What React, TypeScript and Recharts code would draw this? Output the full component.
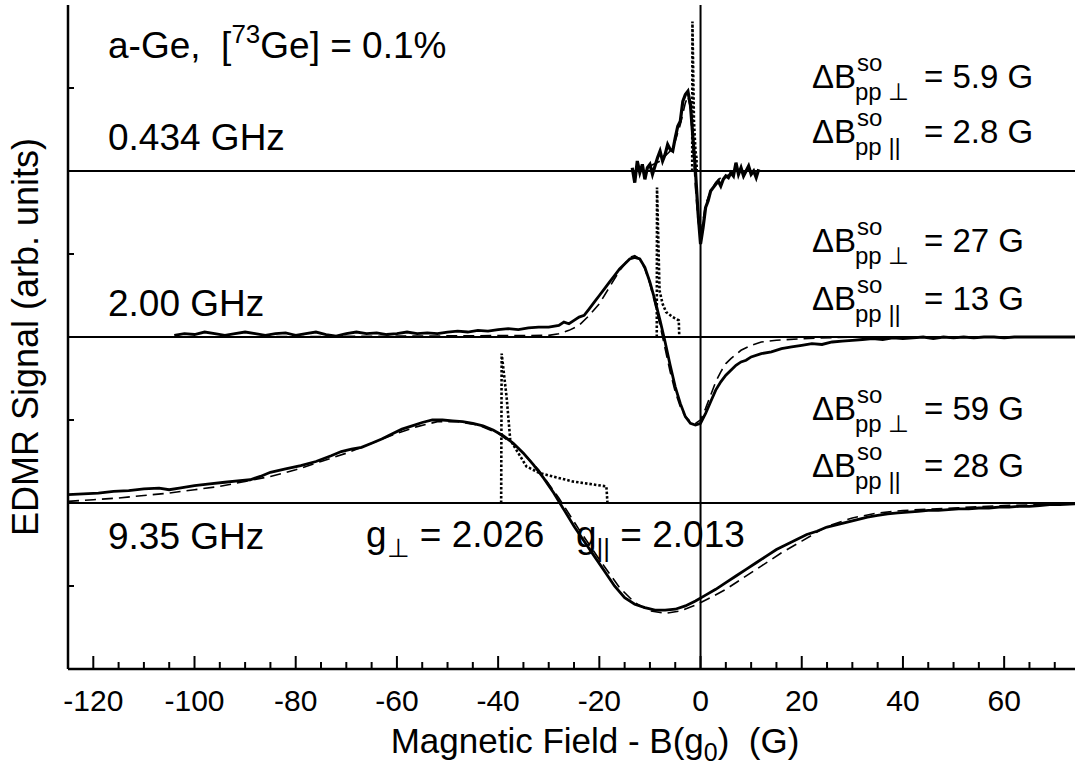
import React from "react";
import { LineChart, Line, XAxis, YAxis, ReferenceLine } from "recharts";

const FONT = "'Liberation Sans', Arial, Helvetica, sans-serif";

// field offsets (G) and signal values; baselines: 0.434 GHz -> 3, 2.00 GHz -> 2, 9.35 GHz -> 1
const fieldLow = [
  -13.5, -13, -12.5, -12, -11.5, -11, -10.5, -10, -9.5, -9, -8.5, -8, -7.5, -7, -6.5, -6, -5.5, -5,
  -4.5, -4, -3.5, -3, -2.5, -2, -1.5, -1, -0.5, 0, 0.5, 1, 1.5, 2, 2.5, 3, 3.5, 4, 4.5, 5, 5.5, 6,
  6.5, 7, 7.5, 8, 8.5, 9, 9.5, 10, 10.5, 11, 11.5,
];
const sig434 = [
  3.02, 2.93, 3.06, 2.99, 3.04, 2.95, 3.02, 3.04, 2.98, 3.03, 3.08, 3.12, 3.06, 3.1, 3.16, 3.13, 3.12, 3.2,
  3.27, 3.3, 3.42, 3.46, 3.48, 3.4, 3.2, 3.0, 2.75, 2.56, 2.66, 2.78, 2.82, 2.88, 2.9, 2.92, 2.94, 2.91,
  2.95, 2.97, 2.96, 2.99, 2.97, 3.05, 2.98, 3.02, 2.97, 3.0, 3.03, 2.98, 3.0, 2.96, 3.01,
];
const fitField434 = [-10, -8, -6, -5, -4, -3, -2.5, -2, -1.5, -1, -0.5, 0, 0.5, 1, 2, 3, 4, 6];
const fit434 = [3.03, 3.06, 3.12, 3.18, 3.28, 3.41, 3.45, 3.38, 3.15, 2.9, 2.7, 2.62, 2.7, 2.8, 2.88, 2.93, 2.96, 2.98];
const simField434 = [-1.65, -1.6, -1.3, -1.0, -0.8, -0.75];
const sim434 = [3.0, 3.9, 3.3, 3.12, 3.08, 3.0];

const field200 = [
  -104, -102, -100, -98, -96, -94, -92, -90, -88, -86, -84, -82, -80, -78, -76, -74, -72, -70, -68, -66,
  -64, -62, -60, -58, -56, -54, -52, -50, -48, -46, -44, -42, -40, -38, -36, -34, -32, -30, -28, -27,
  -26, -25, -24, -23, -22, -21, -20, -19, -18, -17, -16, -15, -14, -13, -12, -11, -10, -9, -8, -7,
  -6, -5, -4, -3, -2, -1, 0, 1, 2, 3, 4, 5, 6, 7, 8, 9, 10, 12, 14, 16,
  18, 20, 22, 24, 26, 28, 30, 32, 34, 36, 38, 40, 42, 44, 46, 48, 50, 52, 54, 56,
  58, 60, 62, 64, 66, 68, 70, 74,
];
const sig200 = [
  2.01, 2.02, 2.015, 2.03, 2.02, 2.01, 2.02, 2.03, 2.02, 2.01, 2.02, 2.025, 2.01, 2.02, 2.03, 2.015, 2.005, 2.02, 2.03, 2.02,
  2.025, 2.015, 2.02, 2.03, 2.02, 2.025, 2.02, 2.03, 2.035, 2.03, 2.04, 2.035, 2.045, 2.05, 2.045, 2.055, 2.06, 2.06, 2.07, 2.09,
  2.08, 2.1, 2.12, 2.13, 2.17, 2.21, 2.25, 2.29, 2.33, 2.37, 2.41, 2.44, 2.47, 2.48, 2.47, 2.42, 2.33, 2.22, 2.1, 1.97,
  1.83, 1.7, 1.6, 1.52, 1.48, 1.47, 1.48, 1.54, 1.61, 1.68, 1.73, 1.77, 1.8, 1.83, 1.85, 1.86, 1.88, 1.9, 1.91, 1.93,
  1.94, 1.95, 1.96, 1.955, 1.97, 1.975, 1.98, 1.985, 1.99, 1.985, 1.995, 1.99, 1.995, 2.0, 1.99, 2.0, 1.995, 2.0, 1.995, 2.0,
  2.0, 1.995, 2.0, 2.0, 2.0, 2.0, 2.0, 2.0,
];
const fitField200 = [
  -104, -60, -30, -28, -26, -24, -22, -20, -18, -16, -14, -13, -12, -11, -10, -9, -8, -7, -6, -5,
  -4, -3, -2, -1, 0, 1, 2, 3, 4, 5, 6, 8, 10, 12, 15, 20, 30, 74,
];
const fit200 = [
  2.0, 2.005, 2.01, 2.02, 2.04, 2.07, 2.13, 2.2, 2.3, 2.4, 2.48, 2.49, 2.47, 2.41, 2.32, 2.2, 2.07, 1.93, 1.79, 1.67,
  1.58, 1.52, 1.49, 1.48, 1.5, 1.57, 1.65, 1.73, 1.79, 1.84, 1.87, 1.92, 1.95, 1.97, 1.98, 1.99, 2.0, 2.0,
];
const simField200 = [-8.65, -8.6, -8.1, -7.5, -6.8, -5.5, -4.3, -4.2];
const sim200 = [2.0, 2.9, 2.28, 2.2, 2.15, 2.12, 2.1, 2.0];

const field935 = [
  -125, -122, -119, -116, -113, -110, -107, -105, -103, -100, -97, -94, -91, -89, -87, -85, -82, -79, -76, -73,
  -71, -69, -67, -65, -63, -61, -59, -57, -55, -53, -51, -49, -47, -45, -43, -41, -39, -37, -35, -33,
  -31, -29, -27, -25, -23, -21, -19, -17, -15, -13, -11, -9, -7, -5, -3, -1, 1, 3, 5, 7,
  9, 11, 13, 15, 17, 19, 21, 23, 25, 27, 29, 31, 33, 35, 37, 39, 41, 43, 45, 47,
  49, 51, 53, 55, 57, 59, 61, 63, 65, 67, 69, 71, 74,
];
const sig935 = [
  1.05, 1.055, 1.06, 1.07, 1.075, 1.085, 1.09, 1.08, 1.09, 1.105, 1.115, 1.125, 1.135, 1.14, 1.16, 1.185, 1.205, 1.225, 1.25, 1.285,
  1.31, 1.325, 1.335, 1.36, 1.385, 1.415, 1.445, 1.465, 1.485, 1.5, 1.5, 1.495, 1.49, 1.48, 1.465, 1.44, 1.405, 1.36, 1.3, 1.23,
  1.15, 1.06, 0.96, 0.86, 0.77, 0.68, 0.59, 0.5, 0.43, 0.39, 0.37, 0.355, 0.355, 0.36, 0.38, 0.41, 0.445, 0.48, 0.52, 0.56,
  0.6, 0.64, 0.68, 0.72, 0.75, 0.78, 0.81, 0.83, 0.855, 0.87, 0.885, 0.9, 0.915, 0.925, 0.935, 0.94, 0.945, 0.95, 0.955, 0.955,
  0.96, 0.965, 0.965, 0.97, 0.97, 0.975, 0.975, 0.98, 0.98, 0.985, 0.99, 0.99, 0.995,
];
const fitField935 = [
  -125, -120, -115, -110, -105, -100, -95, -90, -85, -80, -75, -70, -65, -60, -56, -52, -48, -44, -40, -36,
  -32, -28, -24, -20, -16, -13, -10, -7, -4, -1, 2, 5, 8, 12, 16, 20, 25, 30, 35, 40, 50, 60, 74,
];
const fit935 = [
  1.01, 1.02, 1.03, 1.045, 1.06, 1.08, 1.1, 1.13, 1.16, 1.2, 1.25, 1.3, 1.36, 1.42, 1.46, 1.49, 1.49, 1.47, 1.42, 1.33,
  1.2, 1.03, 0.84, 0.66, 0.49, 0.4, 0.35, 0.335, 0.35, 0.385, 0.43, 0.48, 0.54, 0.62, 0.7, 0.77, 0.86, 0.91, 0.94, 0.955, 0.97, 0.985, 0.995,
];
const simField935 = [-39.4, -39.3, -38.3, -37.6, -34.4, -31.8, -25.3, -18.6, -18.4];
const sim935 = [1.0, 1.9, 1.63, 1.38, 1.22, 1.18, 1.13, 1.1, 1.0];

const fieldTicks = [
  -125, -120, -115, -110, -105, -100, -95, -90, -85, -80, -75, -70, -65, -60, -55, -50, -45, -40, -35, -30,
  -25, -20, -15, -10, -5, 0, 5, 10, 15, 20, 25, 30, 35, 40, 45, 50, 55, 60, 65, 70,
];
const signalTicks = [0.5, 1.5, 2.5, 3.5];
const baselines = [1, 2, 3];

const pts = (g: number[], v: number[]) => g.map((x, i) => ({ g: x, v: v[i] }));

function BottomTick(props: any) {
  const { x, y, payload } = props;
  const major = payload.value % 20 === 0;
  return (
    <g>
      <line x1={x} x2={x} y1={y} y2={y - (major ? 13 : 7)} stroke="#000" strokeWidth={2} />
      {major && (
        <text x={x} y={y + 42} textAnchor="middle" fontSize={30} fontFamily={FONT} fill="#000">
          {payload.value}
        </text>
      )}
    </g>
  );
}

function TopTick(props: any) {
  const { x, y, payload } = props;
  const major = payload.value % 20 === 0;
  return <line x1={x} x2={x} y1={y} y2={y + (major ? 13 : 7)} stroke="#000" strokeWidth={2} />;
}

function LeftTick(props: any) {
  const { x, y } = props;
  return <line x1={x} x2={x + 6} y1={y} y2={y} stroke="#000" strokeWidth={2} />;
}

function DeltaB(props: { x: number; y: number; sub: string; value: string }) {
  const { x, y, sub, value } = props;
  return (
    <g fontFamily={FONT} fill="#000">
      <text x={x} y={y} fontSize={33}>ΔB</text>
      <text x={x + 45} y={y - 17} fontSize={24}>so</text>
      <text x={x + 43} y={y + 12} fontSize={24}>pp {sub}</text>
      <text x={x + 112} y={y} fontSize={33}>= {value}</text>
    </g>
  );
}

export default function App() {
  const solid = { stroke: "#000", strokeWidth: 2.8, dot: false, isAnimationActive: false, type: "linear" as const };
  const dashed = { stroke: "#000", strokeWidth: 1.6, strokeDasharray: "11 6", dot: false, isAnimationActive: false, type: "linear" as const };
  const dotted = { stroke: "#000", strokeWidth: 2.6, strokeDasharray: "2.5 2", dot: false, isAnimationActive: false, type: "linear" as const };
  const pre = { whiteSpace: "pre" as const };
  return (
    <div style={{ position: "absolute", left: 0, top: 0, width: 1075, height: 769, background: "#fff" }}>
      <LineChart width={1075} height={769} margin={{ top: 5, right: 0, bottom: 0, left: 0 }}>
        <XAxis
          dataKey="g"
          type="number"
          domain={[-125, 74]}
          ticks={fieldTicks}
          allowDataOverflow
          height={100}
          tickSize={0}
          tickMargin={0}
          tickLine={false}
          tick={<BottomTick />}
          axisLine={{ stroke: "#000", strokeWidth: 2.5 }}
          interval={0}
        />
        <XAxis
          xAxisId="top"
          orientation="top"
          dataKey="g"
          type="number"
          domain={[-125, 74]}
          ticks={fieldTicks}
          allowDataOverflow
          height={0}
          tickSize={0}
          tickMargin={0}
          tickLine={false}
          tick={<TopTick />}
          axisLine={{ stroke: "#000", strokeWidth: 2.5 }}
          interval={0}
        />
        <YAxis
          type="number"
          domain={[0, 4]}
          ticks={signalTicks}
          width={68}
          tickSize={0}
          tickMargin={0}
          tickLine={false}
          tick={<LeftTick />}
          axisLine={{ stroke: "#000", strokeWidth: 2.5 }}
          interval={0}
        />
        {baselines.map((b) => (
          <ReferenceLine key={b} y={b} stroke="#000" strokeWidth={2} />
        ))}
        <ReferenceLine x={0} stroke="#000" strokeWidth={2} />

        <Line data={pts(fitField935, fit935)} dataKey="v" {...dashed} />
        <Line data={pts(field935, sig935)} dataKey="v" {...solid} />
        <Line data={pts(simField935, sim935)} dataKey="v" {...dotted} />

        <Line data={pts(fitField200, fit200)} dataKey="v" {...dashed} />
        <Line data={pts(field200, sig200)} dataKey="v" {...solid} />
        <Line data={pts(simField200, sim200)} dataKey="v" {...dotted} />

        <Line data={pts(fitField434, fit434)} dataKey="v" {...dashed} />
        <Line data={pts(fieldLow, sig434)} dataKey="v" {...solid} strokeWidth={3.2} />
        <Line data={pts(simField434, sim434)} dataKey="v" {...dotted} />
      </LineChart>

      <svg width={1075} height={769} style={{ position: "absolute", left: 0, top: 0, pointerEvents: "none" }}>
        <g fontFamily={FONT} fill="#000">
          <text transform="translate(38,337) rotate(-90)" textAnchor="middle" fontSize={36}>
            EDMR Signal (arb. units)
          </text>
          <text x={595} y={753} textAnchor="middle" fontSize={35} style={pre}>
            Magnetic Field - B(g<tspan fontSize={25} dy={8}>0</tspan>
            <tspan dy={-8}>)  (G)</tspan>
          </text>

          <text x={108} y={58} fontSize={37} style={pre}>
            a-Ge,  [<tspan fontSize={26} dy={-15}>73</tspan>
            <tspan dy={15}>Ge] = 0.1%</tspan>
          </text>
          <text x={108} y={150} fontSize={37}>0.434 GHz</text>
          <text x={108} y={316} fontSize={37}>2.00 GHz</text>
          <text x={108} y={549} fontSize={37}>9.35 GHz</text>

          <text x={366} y={547} fontSize={37}>
            g<tspan fontSize={26} dy={10}>⊥</tspan>
            <tspan dy={-10}> = 2.026</tspan>
          </text>
          <text x={576} y={547} fontSize={37}>
            g<tspan fontSize={26} dy={10}>||</tspan>
            <tspan dy={-10}> = 2.013</tspan>
          </text>
        </g>

        <DeltaB x={812} y={88} sub="⊥" value="5.9 G" />
        <DeltaB x={812} y={143} sub="||" value="2.8 G" />
        <DeltaB x={812} y={252} sub="⊥" value="27 G" />
        <DeltaB x={812} y={310} sub="||" value="13 G" />
        <DeltaB x={812} y={420} sub="⊥" value="59 G" />
        <DeltaB x={812} y={477} sub="||" value="28 G" />
      </svg>
    </div>
  );
}
